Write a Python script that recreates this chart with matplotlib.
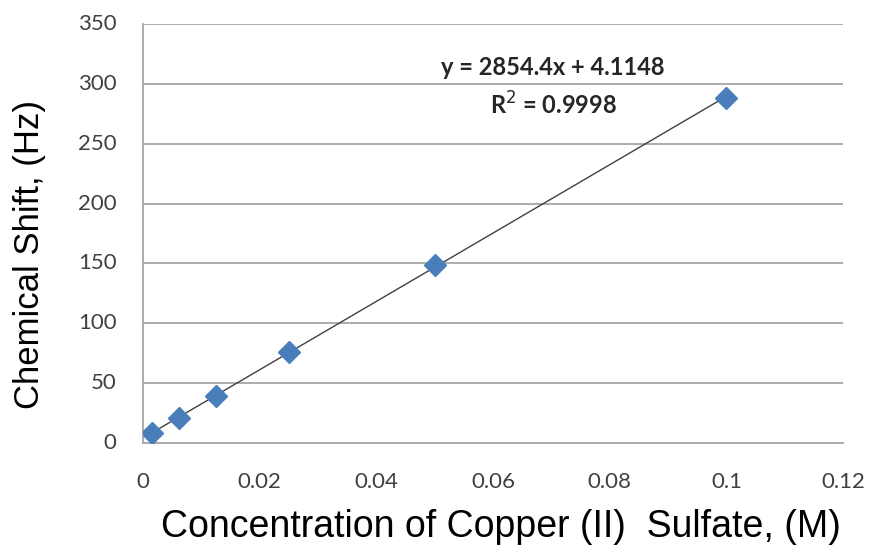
"""Chemical shift vs CuSO4 concentration, Excel-style scatter with linear trendline."""
import matplotlib
matplotlib.use("Agg")
import matplotlib.pyplot as plt
import numpy as np

# data
conc_m = [0.0015625, 0.00625, 0.0125, 0.025, 0.05, 0.1]
shift_hz = [8.5, 21, 39, 76, 149, 288]

# trendline as reported on the chart
slope = 2854.4
intercept = 4.1148
r_squared = 0.9998

x_ticks = [0, 0.02, 0.04, 0.06, 0.08, 0.1, 0.12]
x_tick_labels = ["0", "0.02", "0.04", "0.06", "0.08", "0.1", "0.12"]
y_ticks = [0, 50, 100, 150, 200, 250, 300, 350]

GRID = "#a6a6a6"
TICK = "#404040"
BLUE = "#4a7ebb"

fig = plt.figure(figsize=(8.69, 5.52), dpi=100)
ax = fig.add_axes([0.1646, 0.1975, 0.8056, 0.759])

ax.set_xlim(0, 0.12)
ax.set_ylim(0, 350)

ax.set_yticks(y_ticks)
ax.yaxis.grid(True, color=GRID, lw=1.3)
ax.set_axisbelow(True)
for side in ("top", "right"):
    ax.spines[side].set_visible(False)
for side in ("left", "bottom"):
    ax.spines[side].set_color(GRID)
    ax.spines[side].set_linewidth(1.3)
ax.tick_params(length=0, labelsize=16, labelcolor=TICK)
ax.tick_params(axis="y", pad=19)
ax.tick_params(axis="x", pad=28)
ax.set_xticks(x_ticks)
ax.set_xticklabels(x_tick_labels)
for lab in ax.get_xticklabels() + ax.get_yticklabels():
    lab.set_family("Lato")
    lab.set_va("center")
for lab in ax.get_yticklabels():
    lab.set_ha("right")

# trendline over the data range
xs = np.array([min(conc_m), max(conc_m)])
ax.plot(xs, slope * xs + intercept, color="#404040", lw=1.0, zorder=2)
ax.plot(conc_m, shift_hz, ls="none", marker="D", ms=11, color=BLUE,
        mec=BLUE, zorder=3)

ax.text(0.0703, 314, f"y = {slope}x + {intercept}", ha="center", va="center",
        fontsize=17, fontweight="bold", family="Lato", color="#262626")
ax.text(0.0703, 282, f"R$^2$ = {r_squared}", ha="center", va="center",
        fontsize=17, fontweight="bold", family="Lato", color="#262626")

ax.set_xlabel("Concentration of Copper (II)  Sulfate, (M)", fontsize=27,
              family="Liberation Sans")
ax.xaxis.set_label_coords(0.511, -0.158)
ax.set_ylabel("Chemical Shift, (Hz)", fontsize=25, family="Liberation Sans")
ax.yaxis.set_label_coords(-0.138, 0.45)

fig.savefig("out.png", dpi=100)
